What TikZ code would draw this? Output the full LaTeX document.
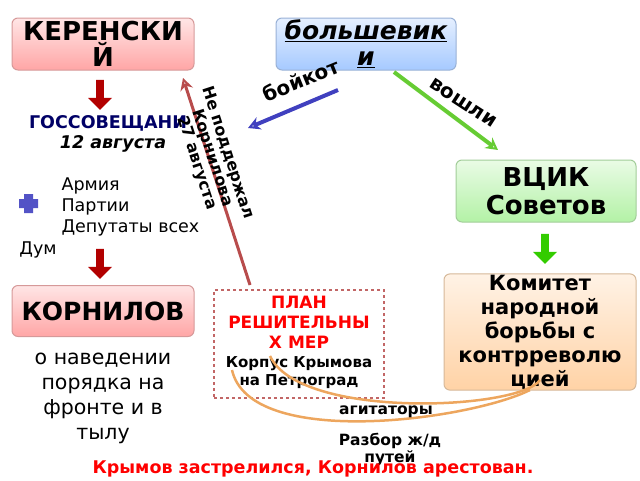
\documentclass[tikz,border=0pt]{standalone}
\usepackage{fontspec}
\setmainfont{DejaVu Sans}
\usetikzlibrary{arrows.meta,shapes.arrows}
\tikzset{
  card/.style={draw=#1!60!black!40,rounded corners=6pt,top color=#1!10,bottom color=#1!35,
    align=center,font=\bfseries,inner sep=1pt,line width=1pt},
  fatarrow/.style={single arrow,draw=none,fill=#1,minimum height=30pt,
    single arrow head extend=7pt,minimum width=24pt,shape border rotate=270,inner sep=3pt},
  rope/.style={orange!60!brown!70,line width=2.5pt},
  link/.style={-{Stealth[open,length=12pt,width=13pt]},line width=4pt},
}
\begin{document}
\begin{tikzpicture}[x=1pt,y=-1pt]
  \useasboundingbox (0,0) rectangle (640,480);
  % boxes
  \node[card=red,minimum width=182,minimum height=52,font=\bfseries\fontsize{26}{26}\selectfont]
    (kerensky) at (103,44) {КЕРЕНСКИ\\Й};
  \node[card=blue!60!cyan,minimum width=180,minimum height=52,font=\bfseries\itshape\fontsize{25}{26}\selectfont]
    (bolsh) at (366,44) {\underline{большевик}\\\underline{и}};
  \node[card=green!70!olive,minimum width=180,minimum height=62,font=\bfseries\fontsize{26}{28}\selectfont]
    (vcik) at (546,191) {ВЦИК\\Советов};
  \node[card=orange,minimum width=192,minimum height=112,text width=186,font=\bfseries\fontsize{21}{24}\selectfont]
    (komitet) at (540,332) {Комитет\\народной\\борьбы с\\контрреволю\\цией};
  \node[card=red,minimum width=182,minimum height=51,font=\bfseries\fontsize{25}{26}\selectfont]
    (kornilov) at (103,311) {КОРНИЛОВ};
  \node[draw=red!60!black!60,dashed,line width=1.5pt,minimum width=170,minimum height=108]
    (plan) at (299,344) {};
  \node[align=center,font=\bfseries\fontsize{17}{20}\selectfont,text=red] (planhead) at (299,322)
    {ПЛАН\\РЕШИТЕЛЬНЫ\\Х МЕР};
  \node[align=center,font=\bfseries\fontsize{15}{18}\selectfont] (korpus) at (299,373)
    {Корпус Крымова\\на Петроград};
  % left column
  \node[fatarrow=red!70!black] (ar1) at (100,93) {};
  \node[font=\bfseries\fontsize{17.5}{18}\selectfont,text=blue!40!black] (gos) at (108,123) {ГОССОВЕЩАНИ};
  \node[font=\bfseries\itshape\fontsize{17.5}{18}\selectfont] (date) at (113,144) {12 августа};
  \node[align=left,anchor=west,font=\fontsize{17.5}{21}\selectfont] (list) at (58,207) {Армия\\Партии\\Депутаты всех};
  \node[font=\fontsize{17.5}{18}\selectfont] (dum) at (38,250) {Дум};
  \fill[blue!50!gray!90] (24,194) rectangle (33,213) (19,199) rectangle (38,208);
  \node[fatarrow=red!70!black] (ar2) at (100,262) {};
  \node[align=center,font=\fontsize{20.5}{25}\selectfont] (poryadok) at (103,398)
    {о наведении\\порядка на\\фронте и в\\тылу};
  \node[fatarrow=green!60!olive] (ar3) at (545,247) {};
  % connectors
  \coordinate (bk0) at (338,90); \coordinate (bk1) at (248,128);
  \draw[link,blue!50!gray] (bk0) -- (bk1);
  \node[rotate=22,font=\bfseries\fontsize{20}{20}\selectfont] (boikot) at (301,80) {бойкот};
  \coordinate (v0) at (394,72); \coordinate (v1) at (498,150);
  \draw[link,green!50!olive!80] (v0) -- (v1);
  \node[rotate=-33,font=\bfseries\fontsize{20}{20}\selectfont] (voshli) at (463,103) {вошли};
  \coordinate (n0) at (250,285); \coordinate (n1) at (183,78);
  \draw[link,line width=3pt,red!60!black!70] (n0) -- (n1);
  \node[rotate=-72,align=center,font=\bfseries\fontsize{16}{14}\selectfont] (nepod) at (212,158)
    {Не поддержал\\Корнилова\\27 августа};
  \draw[rope] (270,356) .. controls (300,420) and (520,410) .. (540,380);
  \draw[rope] (232,370) .. controls (250,450) and (470,420) .. (530,390);
  \node[font=\bfseries\fontsize{15.5}{16}\selectfont] (agit) at (386,412) {агитаторы};
  \node[align=center,font=\bfseries\fontsize{15.5}{17}\selectfont] (razbor) at (390,450) {Разбор ж/д\\путей};
  \node[font=\bfseries\fontsize{17.5}{18}\selectfont,text=red] (final) at (313,469) {Крымов застрелился, Корнилов арестован.};
\end{tikzpicture}
\end{document}
